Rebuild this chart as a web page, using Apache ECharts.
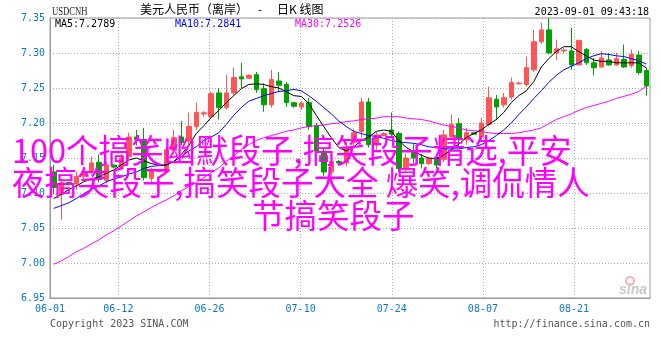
<!DOCTYPE html>
<html><head><meta charset="utf-8">
<script src="https://cdn.jsdelivr.net/npm/echarts@6/dist/echarts.min.js"></script>
<style>html,body{margin:0;padding:0;background:#fff}#c{width:660px;height:360px}</style>
</head><body><div id="c"></div>
<script>
const dates = ['06-01','06-02','06-03','06-05','06-06','06-07','06-08','06-09','06-10','06-12','06-13','06-14','06-15','06-16','06-17','06-19','06-20','06-21','06-22','06-23','06-24','06-26','06-27','06-28','06-29','06-30','07-01','07-03','07-04','07-05','07-06','07-07','07-08','07-10','07-11','07-12','07-13','07-14','07-15','07-17','07-18','07-19','07-20','07-21','07-22','07-24','07-25','07-26','07-27','07-28','07-29','07-31','08-01','08-02','08-03','08-04','08-05','08-07','08-08','08-09','08-10','08-11','08-12','08-14','08-15','08-16','08-17','08-18','08-19','08-21','08-22','08-23','08-24','08-25','08-26','08-28','08-29','08-30','08-31','09-01'];
const opens = [7.130,7.098,7.115,7.113,7.124,7.130,7.144,7.118,7.140,7.137,7.152,7.180,7.176,7.121,7.131,7.133,7.161,7.180,7.174,7.195,7.213,7.209,7.243,7.222,7.243,7.266,7.264,7.269,7.249,7.226,7.260,7.255,7.229,7.223,7.229,7.196,7.160,7.130,7.145,7.143,7.172,7.188,7.230,7.170,7.182,7.190,7.185,7.134,7.158,7.150,7.142,7.151,7.148,7.180,7.199,7.176,7.186,7.180,7.198,7.234,7.226,7.237,7.256,7.255,7.276,7.316,7.333,7.300,7.303,7.303,7.283,7.305,7.286,7.280,7.290,7.283,7.291,7.282,7.297,7.275];
const closes = [7.108,7.115,7.113,7.124,7.130,7.143,7.119,7.140,7.137,7.150,7.180,7.176,7.122,7.131,7.133,7.162,7.179,7.172,7.195,7.215,7.2145,7.242,7.222,7.243,7.265,7.263,7.268,7.248,7.226,7.262,7.254,7.229,7.224,7.228,7.195,7.160,7.130,7.145,7.143,7.165,7.186,7.230,7.169,7.183,7.185,7.184,7.135,7.150,7.150,7.142,7.149,7.140,7.183,7.198,7.176,7.186,7.184,7.200,7.236,7.223,7.236,7.258,7.257,7.279,7.316,7.333,7.300,7.306,7.304,7.283,7.318,7.286,7.279,7.293,7.283,7.292,7.280,7.298,7.272,7.253];
const lows = [7.098,7.062,7.111,7.105,7.118,7.126,7.115,7.114,7.135,7.132,7.148,7.168,7.118,7.116,7.129,7.128,7.155,7.168,7.170,7.190,7.209,7.206,7.205,7.219,7.240,7.250,7.263,7.243,7.216,7.222,7.244,7.223,7.222,7.219,7.190,7.155,7.124,7.125,7.141,7.138,7.166,7.180,7.165,7.162,7.181,7.178,7.130,7.130,7.142,7.135,7.140,7.135,7.144,7.176,7.165,7.169,7.183,7.176,7.195,7.205,7.222,7.234,7.255,7.252,7.273,7.313,7.298,7.290,7.300,7.276,7.282,7.283,7.268,7.279,7.282,7.282,7.279,7.279,7.269,7.239];
const highs = [7.140,7.120,7.116,7.130,7.135,7.152,7.155,7.145,7.141,7.156,7.186,7.190,7.193,7.136,7.134,7.166,7.190,7.203,7.215,7.229,7.217,7.245,7.250,7.269,7.279,7.286,7.270,7.273,7.257,7.276,7.273,7.259,7.230,7.231,7.236,7.200,7.165,7.150,7.147,7.172,7.192,7.236,7.236,7.187,7.187,7.215,7.188,7.156,7.170,7.156,7.151,7.154,7.190,7.212,7.207,7.193,7.187,7.207,7.252,7.240,7.243,7.265,7.259,7.295,7.333,7.343,7.350,7.319,7.307,7.336,7.319,7.307,7.293,7.303,7.300,7.300,7.312,7.305,7.303,7.279];
const ma5 = [7.092,7.098,7.105,7.110,7.116,7.120,7.123,7.128,7.133,7.140,7.147,7.150,7.146,7.142,7.140,7.140,7.145,7.155,7.168,7.185,7.196,7.208,7.218,7.229,7.239,7.249,7.255,7.256,7.255,7.252,7.250,7.245,7.239,7.238,7.228,7.211,7.195,7.179,7.165,7.160,7.166,7.175,7.180,7.188,7.190,7.188,7.175,7.165,7.159,7.154,7.150,7.149,7.154,7.162,7.170,7.179,7.185,7.190,7.198,7.205,7.215,7.229,7.239,7.246,7.259,7.280,7.292,7.302,7.309,7.309,7.302,7.296,7.290,7.288,7.288,7.286,7.286,7.286,7.286,7.2789];
const ma10 = [7.078,7.082,7.086,7.092,7.099,7.105,7.110,7.116,7.120,7.123,7.127,7.130,7.135,7.138,7.139,7.140,7.145,7.152,7.160,7.166,7.175,7.180,7.186,7.198,7.211,7.222,7.231,7.235,7.239,7.242,7.245,7.246,7.248,7.246,7.239,7.231,7.222,7.213,7.203,7.195,7.188,7.185,7.182,7.181,7.178,7.175,7.173,7.172,7.171,7.169,7.166,7.165,7.163,7.163,7.163,7.165,7.166,7.169,7.175,7.182,7.190,7.200,7.212,7.223,7.235,7.246,7.258,7.268,7.276,7.281,7.286,7.292,7.296,7.299,7.298,7.296,7.295,7.292,7.289,7.2841];
const ma30 = [6.998,7.003,7.009,7.016,7.021,7.027,7.033,7.040,7.046,7.053,7.060,7.067,7.073,7.079,7.085,7.090,7.096,7.103,7.109,7.115,7.122,7.129,7.136,7.145,7.153,7.162,7.169,7.175,7.179,7.182,7.185,7.188,7.190,7.193,7.195,7.196,7.197,7.199,7.200,7.202,7.203,7.205,7.206,7.207,7.209,7.209,7.209,7.207,7.206,7.205,7.203,7.200,7.197,7.195,7.193,7.190,7.189,7.188,7.186,7.185,7.185,7.185,7.186,7.188,7.190,7.193,7.199,7.205,7.209,7.213,7.218,7.222,7.225,7.228,7.231,7.235,7.238,7.241,7.245,7.2526];
const tickLabels = ['06-01','06-12','06-26','07-10','07-24','08-07','08-21'];
const legendTexts = ['MA5:7.2789','MA10:7.2841','MA30:7.2526'];
const overlayLines = ['100个搞笑幽默段子,搞笑段子精选,平安','夜搞笑段子,搞笑段子大全 爆笑,调侃情人','节搞笑段子'];

const candles = opens.map((o, i) => [o, closes[i], lows[i], highs[i]]);
const mono = '"DejaVu Sans Mono", monospace';
const cjk = '"Noto Sans CJK SC", sans-serif';
const lblBlue = '#0a7ac8';
const grid = '#aaaaaa';

const chart = echarts.init(document.getElementById('c'), null, {renderer: 'canvas'});
const overlayStyle = (t) => ({text: t, font: '32.5px ' + cjk, fill: '#ff00ff', align: 'left', verticalAlign: 'middle',
  textShadowColor: '#555555', textShadowOffsetX: 2, textShadowOffsetY: 2, textShadowBlur: 0});
chart.setOption({
  animation: false,
  grid: {left: 50, right: 10, top: 18, bottom: 62, show: true, borderColor: '#999', borderWidth: 1},
  xAxis: [
    {type: 'category', data: dates, boundaryGap: true, show: false, position: 'top'},
    {type: 'category', data: dates, boundaryGap: false, position: 'bottom',
      axisLine: {show: true, lineStyle: {color: '#999'}}, axisTick: {show: false},
      axisLabel: {interval: (i, v) => tickLabels.includes(v), color: lblBlue, fontFamily: mono, fontSize: 10, margin: 6},
      splitLine: {show: true, interval: (i, v) => i > 0 && tickLabels.includes(v), lineStyle: {color: grid, type: [1, 2]}}}
  ],
  yAxis: {type: 'value', min: 6.95, max: 7.35, interval: 0.05,
    axisLine: {show: true, lineStyle: {color: '#999'}}, axisTick: {show: false},
    axisLabel: {formatter: v => v.toFixed(2), color: lblBlue, fontFamily: mono, fontSize: 10, margin: 5},
    splitLine: {show: true, lineStyle: {color: grid, type: [1, 2]}}},
  series: [
    {type: 'candlestick', xAxisIndex: 0, data: candles, barWidth: 5,
      itemStyle: {color: '#ff5555', color0: '#00a000', borderColor: '#ff5555', borderColor0: '#00a000', borderWidth: 1}},
    {type: 'line', xAxisIndex: 0, data: ma30, showSymbol: false, lineStyle: {color: '#ff00ff', width: 1}},
    {type: 'line', xAxisIndex: 0, data: ma10, showSymbol: false, lineStyle: {color: '#0000ff', width: 1}},
    {type: 'line', xAxisIndex: 0, data: ma5, showSymbol: false, lineStyle: {color: '#000000', width: 1}}
  ],
  graphic: [
    {type: 'text', x: 52, y: 12, scaleX: 0.72, style: {text: 'USDCNH', font: '12px "Liberation Serif", serif', fill: '#222', align: 'left', verticalAlign: 'middle'}},
    {type: 'text', x: 140, y: 9, style: {text: '美元人民币（离岸）', font: '12px ' + cjk, fill: '#000', align: 'left', verticalAlign: 'middle'}},
    {type: 'text', x: 258, y: 9, style: {text: '-', font: '12px ' + cjk, fill: '#000', align: 'left', verticalAlign: 'middle'}},
    {type: 'text', x: 277, y: 9, style: {text: '日K 线图', font: '12px ' + cjk, fill: '#000', align: 'left', verticalAlign: 'middle'}},
    {type: 'text', x: 649, y: 12, style: {text: '2023-09-01 09:43:18', font: '10px ' + mono, fill: '#000', align: 'right', verticalAlign: 'middle'}},
    {type: 'text', x: 55, y: 24, style: {text: legendTexts[0], font: '10px ' + mono, fill: '#000', align: 'left', verticalAlign: 'middle'}},
    {type: 'text', x: 175, y: 24, style: {text: legendTexts[1], font: '10px ' + mono, fill: '#0000ff', align: 'left', verticalAlign: 'middle'}},
    {type: 'text', x: 295, y: 24, style: {text: legendTexts[2], font: '10px ' + mono, fill: '#ff00ff', align: 'left', verticalAlign: 'middle'}},
    {type: 'text', x: 50, y: 324, style: {text: 'Copyright 2023 SINA.COM', font: '10px ' + mono, fill: '#555', align: 'left', verticalAlign: 'middle'}},
    {type: 'text', x: 650, y: 324, style: {text: 'http://finance.sina.com.cn', font: '10px ' + mono, fill: '#555', align: 'right', verticalAlign: 'middle'}},
    {type: 'circle', shape: {cx: 630, cy: 281, r: 4}, style: {fill: 'none', stroke: '#f3b3b3', lineWidth: 2}, z: 50},
    {type: 'text', x: 647, y: 290, style: {text: 'sina', font: 'italic bold 14px "Liberation Sans", sans-serif', fill: '#c8c8c8', align: 'right', verticalAlign: 'middle'}, z: 50},
    {type: 'text', x: 12, y: 151, style: overlayStyle(overlayLines[0]), z: 100},
    {type: 'text', x: 12, y: 183, style: overlayStyle(overlayLines[1]), z: 100},
    {type: 'text', x: 252, y: 216, style: overlayStyle(overlayLines[2]), z: 100}
  ]
});
</script>
</body></html>
